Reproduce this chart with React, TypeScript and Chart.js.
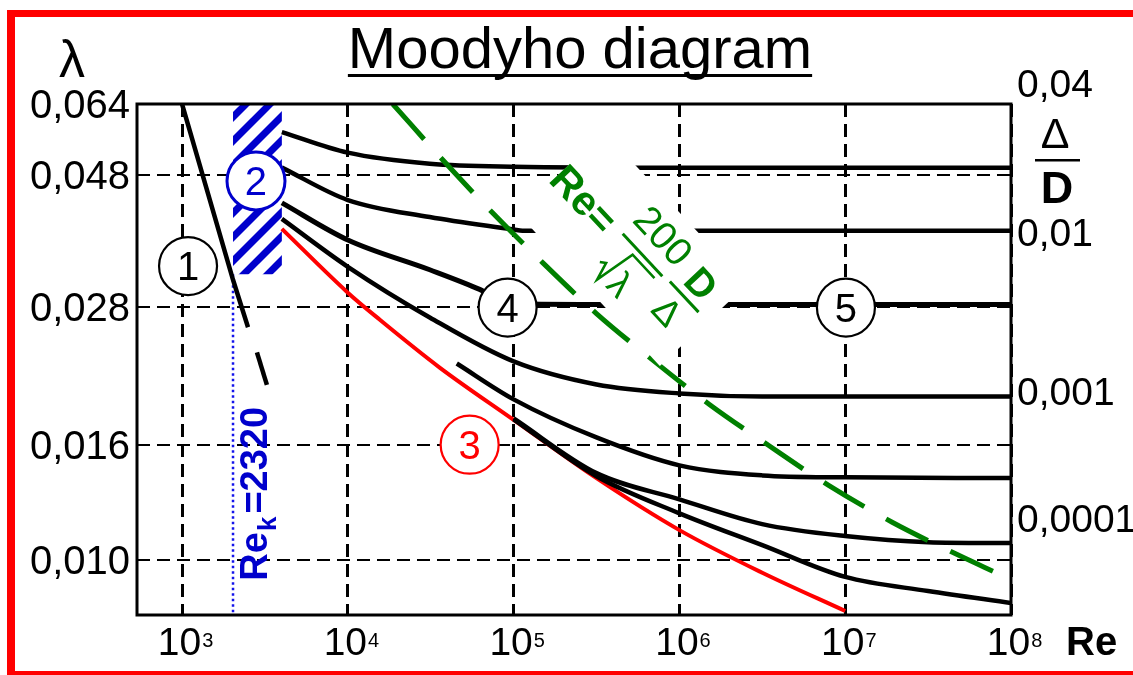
import React, { useEffect, useRef } from "react";
import { Chart, registerables } from "chart.js";

Chart.register(...registerables);

const FONT = '"Liberation Sans", Arial, Helvetica, sans-serif';
const GREEN = "rgb(0,128,0)";
const BLUE = "rgb(0,0,204)";
const DOT_BLUE = "rgb(20,20,235)";

// ---- axis ticks ----
const xTickValues = [1e3, 1e4, 1e5, 1e6, 1e7, 1e8];
const xTickExponents = ["3", "4", "5", "6", "7", "8"];
const yTickValues = [0.01, 0.016, 0.028, 0.048, 0.064];
const yTickLabels = ["0,010", "0,016", "0,028", "0,048", "0,064"];

// ---- (1) laminar flow ----
const laminarRe = [1000, 2030, 2500];
const laminarLam = [0.064, 0.0313, 0.0258];
const laminarExtRe = [2830, 3250];
const laminarExtLam = [0.0233, 0.0204];

// ---- critical Reynolds number (dotted) ----
const criticalRe = [2030, 2030];
const criticalLam = [0.032, 0.008];

// ---- (2) transition zone (hatched) ----
const transitionRe = [2030, 4000];
const transitionLam = [0.032, 0.064];

// ---- (3) hydraulically smooth pipe ----
const smoothRe = [4000, 10000, 15600, 35800, 100000, 316000, 1e6, 3.16e6, 1e7];
const smoothLam = [0.0385, 0.0297, 0.0266, 0.0219, 0.0177, 0.01396, 0.0113, 0.0095, 0.00813];

// ---- roughness curves ----
const roughARe = [4000, 10000, 31200, 100000, 1e6, 1e7, 1e8];
const roughALam = [0.0571, 0.0525, 0.0502, 0.0496, 0.0494, 0.0494, 0.0494];

const roughBRe = [4000, 10000, 31200, 100000, 113000, 1e6, 1e8];
const roughBLam = [0.0494, 0.0433, 0.0404, 0.0384, 0.0382, 0.0382, 0.0382];

const roughCRe = [4000, 10000, 31200, 62400, 94700, 1e6, 1e8];
const roughCLam = [0.0428, 0.0368, 0.0326, 0.0301, 0.0284, 0.0283, 0.0283];

const roughDRe = [4000, 10000, 31200, 100000, 316000, 1e6, 3.16e6, 1e8];
const roughDLam = [0.0401, 0.033, 0.02685, 0.02245, 0.02044, 0.01971, 0.01947, 0.01947];

const roughERe = [45400, 100000, 316000, 1e6, 3.16e6, 1e7, 1e8];
const roughELam = [0.02226, 0.01924, 0.01648, 0.01471, 0.01412, 0.01401, 0.01397];

const roughFRe = [100000, 316000, 1e6, 3.16e6, 1e7, 3.16e7, 1e8];
const roughFLam = [0.0178, 0.01425, 0.01281, 0.01158, 0.01103, 0.01076, 0.01072];

const roughGRe = [100000, 316000, 1e6, 3.16e6, 1e7, 3.16e7, 1e8];
const roughGLam = [0.01774, 0.01407, 0.0121, 0.01063, 0.00934, 0.00882, 0.0084];

// ---- boundary Re = 200/sqrt(lambda) * D/Delta ----
const boundaryRe = [18660, 37300, 74600, 149600, 316000, 659000, 1.517e6, 3.44e6, 7.9e6, 1.92e7, 4.67e7, 8.47e7];
const boundaryLam = [0.064, 0.051, 0.0411, 0.03356, 0.02728, 0.02282, 0.01885, 0.01596, 0.01357, 0.01167, 0.01025, 0.00945];

// ---- circled zone numbers ----
const zoneLabels = ["1", "2", "3", "4", "5"];
const zoneRe = [1087, 2793, 54300, 92000, 1.01e7];
const zoneLam = [0.0331, 0.0468, 0.016, 0.02795, 0.02795];
const zoneColors = ["#000", BLUE, "#ff0000", "#000", "#000"];

// ---- anchors of the two rotated labels ----
const formulaAnchor = { re: 160000, lam: 0.0468 };
const criticalLabelAnchor = { re: 2030, lam: 0.0092 };

// ---- roughness labels on the right ----
const roughnessLabels = ["0,04", "0,01", "0,001", "0,0001"];

const pts = (xs: number[], ys: number[]) => xs.map((x, i) => ({ x, y: ys[i] }));

const line = (label: string, xs: number[], ys: number[], color: string, width: number, extra: any = {}) => ({
  label,
  data: pts(xs, ys),
  borderColor: color,
  backgroundColor: color,
  borderWidth: width,
  pointRadius: 0,
  fill: false,
  cubicInterpolationMode: "monotone",
  borderCapStyle: "butt",
  ...extra,
});

const moodyPlugin = {
  id: "moody",
  beforeDraw(chart: any) {
    const ctx = chart.ctx;
    ctx.save();
    ctx.fillStyle = "#fff";
    ctx.fillRect(0, 0, chart.width, chart.height);
    // red frame
    ctx.fillStyle = "#ff0000";
    ctx.fillRect(7, 10, chart.width - 7, 7);
    ctx.fillRect(7, 10, 8, chart.height - 10);
    ctx.fillRect(7, 671, chart.width - 7, 4);
    // title
    ctx.fillStyle = "#000";
    ctx.font = `58px ${FONT}`;
    ctx.textAlign = "center";
    ctx.textBaseline = "alphabetic";
    ctx.fillText("Moodyho diagram", 580, 68);
    const tw = ctx.measureText("Moodyho diagram").width;
    ctx.fillRect(580 - tw / 2, 74, tw, 3);
    // lambda
    ctx.font = `52px ${FONT}`;
    ctx.fillText("λ", 72, 77);
    // right-hand roughness labels
    ctx.textAlign = "left";
    ctx.font = `39px ${FONT}`;
    const rightYs = [97, 246, 405, 532];
    roughnessLabels.forEach((t, i) => ctx.fillText(t, 1017, rightYs[i]));
    ctx.textAlign = "center";
    ctx.font = `43px ${FONT}`;
    ctx.fillText("Δ", 1055, 148);
    ctx.fillRect(1035, 159, 45, 2.5);
    ctx.font = `bold 45px ${FONT}`;
    ctx.fillText("D", 1057, 203);
    ctx.textAlign = "left";
    ctx.font = `bold 40px ${FONT}`;
    ctx.fillText("Re", 1066, 655);
    ctx.restore();
  },
  beforeDatasetsDraw(chart: any) {
    const { ctx, scales } = chart;
    const x0 = scales.x.getPixelForValue(transitionRe[0]);
    const x1 = scales.x.getPixelForValue(transitionRe[1]);
    const y0 = scales.y.getPixelForValue(transitionLam[1]);
    const y1 = scales.y.getPixelForValue(transitionLam[0]);
    ctx.save();
    ctx.beginPath();
    ctx.rect(x0, y0, x1 - x0, y1 - y0);
    ctx.clip();
    ctx.fillStyle = "#fff";
    ctx.fillRect(x0, y0, x1 - x0, y1 - y0);
    ctx.strokeStyle = BLUE;
    ctx.lineWidth = 7;
    const h = y1 - y0;
    for (let k = -h - 40; k < x1 - x0 + 40; k += 24) {
      ctx.beginPath();
      ctx.moveTo(x0 + k, y1 + 5);
      ctx.lineTo(x0 + k + h + 10, y0 - 5);
      ctx.stroke();
    }
    ctx.restore();
  },
  afterDatasetsDraw(chart: any) {
    const { ctx, chartArea: ca, scales } = chart;
    const px = (v: number) => scales.x.getPixelForValue(v);
    const py = (v: number) => scales.y.getPixelForValue(v);

    // rotated green formula with white background
    ctx.save();
    ctx.translate(px(formulaAnchor.re), py(formulaAnchor.lam));
    ctx.rotate((47 * Math.PI) / 180);
    ctx.fillStyle = "#fff";
    ctx.fillRect(3, -75, 209, 119);
    ctx.fillStyle = GREEN;
    ctx.strokeStyle = GREEN;
    ctx.textBaseline = "alphabetic";
    ctx.textAlign = "left";
    ctx.font = `bold 41px ${FONT}`;
    ctx.fillText("Re=", 0, 0);
    ctx.textAlign = "center";
    ctx.font = `39px ${FONT}`;
    ctx.fillText("200", 119, -34);
    ctx.lineWidth = 3;
    ctx.beginPath();
    ctx.moveTo(90, -19);
    ctx.lineTo(148, -19);
    ctx.stroke();
    ctx.lineWidth = 2.5;
    ctx.beginPath();
    ctx.moveTo(95, 17);
    ctx.lineTo(100, 13);
    ctx.lineTo(106, 31);
    ctx.lineTo(112, -12);
    ctx.lineTo(144, -12);
    ctx.stroke();
    ctx.textAlign = "left";
    ctx.font = `37px ${FONT}`;
    ctx.fillText("λ", 116, 30);
    ctx.textAlign = "center";
    ctx.font = `bold 39px ${FONT}`;
    ctx.fillText("D", 180, -29);
    ctx.lineWidth = 3;
    ctx.beginPath();
    ctx.moveTo(157, -21);
    ctx.lineTo(199, -21);
    ctx.stroke();
    ctx.font = `37px ${FONT}`;
    ctx.fillText("Δ", 177, 14);
    ctx.restore();

    // plot frame
    ctx.save();
    ctx.strokeStyle = "#000";
    ctx.lineWidth = 3;
    ctx.strokeRect(ca.left, ca.top, ca.right - ca.left, ca.bottom - ca.top);
    ctx.restore();

    // circled zone numbers
    ctx.save();
    zoneLabels.forEach((t, i) => {
      const cx = px(zoneRe[i]);
      const cy = py(zoneLam[i]);
      ctx.beginPath();
      ctx.arc(cx, cy, 29, 0, Math.PI * 2);
      ctx.fillStyle = "#fff";
      ctx.fill();
      ctx.lineWidth = i === 1 ? 3 : 2.2;
      ctx.strokeStyle = zoneColors[i];
      ctx.stroke();
      ctx.fillStyle = zoneColors[i];
      ctx.font = `40px ${FONT}`;
      ctx.textAlign = "center";
      ctx.textBaseline = "alphabetic";
      ctx.fillText(t, cx, cy + 14);
    });
    ctx.restore();

    // Re_k = 2320 rotated
    ctx.save();
    ctx.translate(px(criticalLabelAnchor.re) + 34, py(criticalLabelAnchor.lam));
    ctx.rotate(-Math.PI / 2);
    ctx.fillStyle = BLUE;
    ctx.textAlign = "left";
    ctx.textBaseline = "alphabetic";
    ctx.font = `bold 38px ${FONT}`;
    ctx.fillText("Re", 0, 0);
    let w = ctx.measureText("Re").width;
    ctx.font = `bold 26px ${FONT}`;
    ctx.fillText("k", w + 1, 9);
    w += ctx.measureText("k").width + 4;
    ctx.font = `bold 38px ${FONT}`;
    ctx.fillText("=2320", w, 0);
    ctx.restore();

    // x tick labels 10^n
    ctx.save();
    ctx.fillStyle = "#000";
    ctx.textBaseline = "alphabetic";
    xTickValues.forEach((v, i) => {
      const x = px(v) - 2.5;
      ctx.font = `39px ${FONT}`;
      ctx.textAlign = "center";
      ctx.fillText("10", x, 655);
      const tw = ctx.measureText("10").width;
      ctx.font = `20px ${FONT}`;
      ctx.textAlign = "left";
      ctx.fillText(xTickExponents[i], x + tw / 2 + 1, 647);
    });
    ctx.restore();
  },
};

export default function App() {
  const ref = useRef<HTMLCanvasElement | null>(null);
  useEffect(() => {
    if (!ref.current) return;
    const chart = new Chart(ref.current, {
      type: "line",
      data: {
        datasets: [
          line("boundary", boundaryRe, boundaryLam, GREEN, 5, { borderDash: [47, 25] }),
          line("laminar", laminarRe, laminarLam, "#000", 4.5, { cubicInterpolationMode: "default", tension: 0 }),
          line("laminar ext", laminarExtRe, laminarExtLam, "#000", 4.5, { cubicInterpolationMode: "default", tension: 0 }),
          line("A", roughARe, roughALam, "#000", 4.5),
          line("B", roughBRe, roughBLam, "#000", 4.5),
          line("C", roughCRe, roughCLam, "#000", 5),
          line("D", roughDRe, roughDLam, "#000", 4.5),
          line("E", roughERe, roughELam, "#000", 4.5),
          line("F", roughFRe, roughFLam, "#000", 4.5),
          line("G", roughGRe, roughGLam, "#000", 4.5),
          line("smooth", smoothRe, smoothLam, "#ff0000", 4),
          line("critical", criticalRe, criticalLam, DOT_BLUE, 2.5, { borderDash: [2.5, 3], tension: 0, cubicInterpolationMode: "default" }),
        ],
      },
      options: {
        animation: false,
        responsive: false,
        devicePixelRatio: 1,
        events: [],
        layout: { padding: { left: 0, top: 104, right: 122, bottom: 0 } },
        plugins: { legend: { display: false }, tooltip: { enabled: false }, title: { display: false } },
        scales: {
          x: {
            type: "logarithmic",
            min: 535,
            max: 1e8,
            afterBuildTicks: (s: any) => {
              s.ticks = xTickValues.map((v) => ({ value: v }));
            },
            afterFit: (s: any) => {
              s.height = 60;
            },
            ticks: { display: false },
            grid: { color: "#000", lineWidth: 3, drawTicks: false },
            border: { display: false, dash: [13, 7] },
          },
          y: {
            type: "logarithmic",
            min: 0.008,
            max: 0.064,
            afterBuildTicks: (s: any) => {
              s.ticks = yTickValues.map((v) => ({ value: v }));
            },
            afterFit: (s: any) => {
              s.width = 137;
            },
            ticks: {
              autoSkip: false,
              padding: 7,
              labelOffset: 3,
              color: "#000",
              font: { family: FONT, size: 40 },
              callback: (v: any) => {
                const i = yTickValues.findIndex((t) => Math.abs(t - Number(v)) < 1e-9);
                return i >= 0 ? yTickLabels[i] : "";
              },
            },
            grid: { color: "#000", lineWidth: 2, drawTicks: false },
            border: { display: false, dash: [13, 7] },
          },
        },
      },
      plugins: [moodyPlugin],
    } as any);
    return () => chart.destroy();
  }, []);
  return (
    <div style={{ position: "absolute", left: 0, top: 0, width: 1133, height: 675, background: "#fff" }}>
      <canvas ref={ref} width={1133} height={675} style={{ display: "block" }} />
    </div>
  );
}
